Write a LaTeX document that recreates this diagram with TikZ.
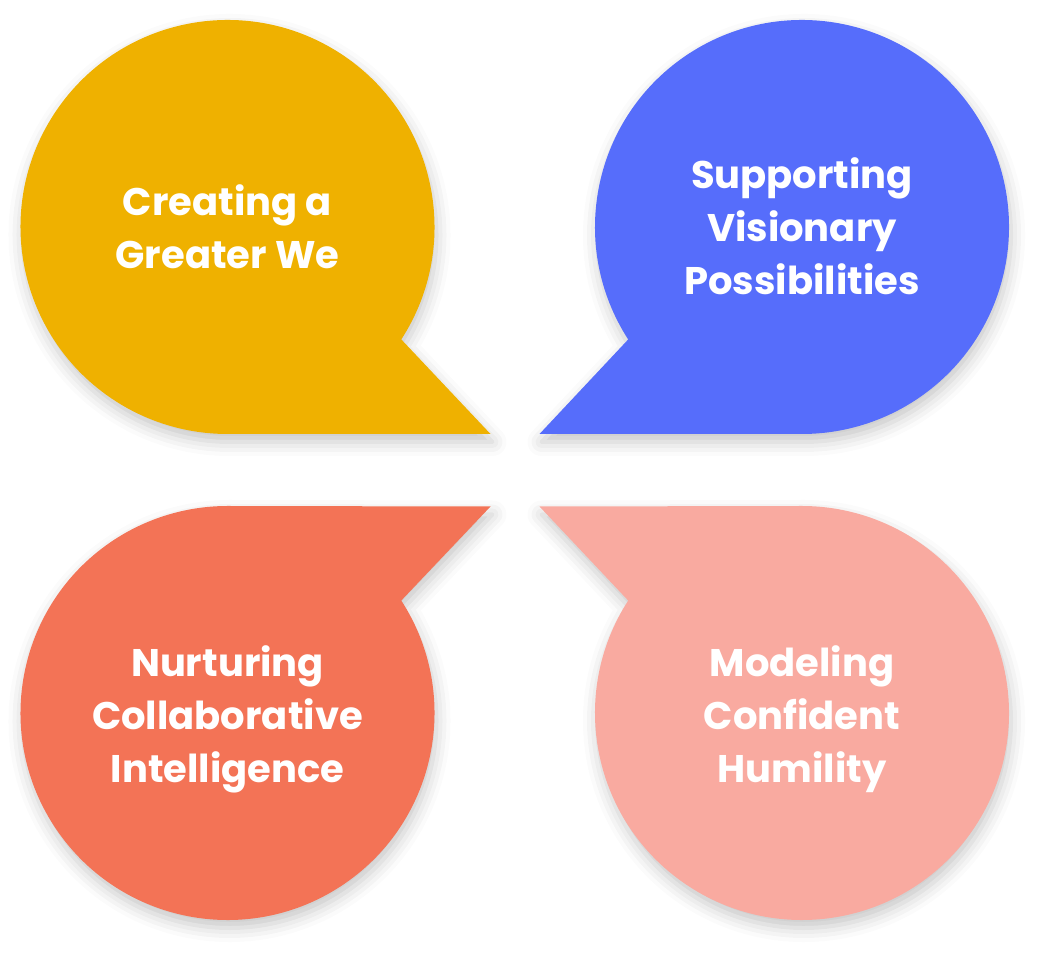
\documentclass[tikz,border=0pt]{standalone}
\usepackage{fontspec}
\setmainfont{Poppins}
\usetikzlibrary{shadows.blur}
\definecolor{GreaterGold}{HTML}{EFB100}
\definecolor{VisionBlue}{HTML}{566DFB}
\definecolor{NurtureCoral}{HTML}{F37356}
\definecolor{HumilityPink}{HTML}{F9AAA0}

\begin{document}
\begin{tikzpicture}[x=1pt,y=1pt,
  bubble/.style={blur shadow={shadow xshift=2pt,shadow yshift=-8pt,shadow blur radius=14pt,shadow opacity=22}},
  bubbletext/.style={text=white,font=\bfseries\fontsize{38.5}{53}\selectfont,align=center}]
  \useasboundingbox (0,0) rectangle (1054,966);
  % speech bubbles, tails towards the middle
  \fill[GreaterGold,bubble] (490.5,532) -- ([shift={(227.5,739)}]-32.9:207) arc[start angle=-32.9,end angle=270,radius=207] -- cycle;
  \fill[VisionBlue,bubble] (539.5,532) -- ([shift={(802,739)}]212.9:207) arc[start angle=212.9,end angle=-90,radius=207] -- cycle;
  \fill[NurtureCoral,bubble] (490.5,459.5) -- ([shift={(227.5,253)}]32.9:207) arc[start angle=32.9,end angle=-270,radius=207] -- cycle;
  \fill[HumilityPink,bubble] (539.5,459.5) -- ([shift={(802,253)}]147.1:207) arc[start angle=147.1,end angle=450,radius=207] -- cycle;

  \node[bubbletext] (greater) at (227.5,739) {Creating a\\Greater We};
  \node[bubbletext] (visionary) at (802,740) {Supporting\\Visionary\\Possibilities};
  \node[bubbletext] (collab) at (227.5,247) {Nurturing\\Collaborative\\Intelligence};
  \node[bubbletext] (humility) at (802,247) {Modeling\\Confident\\Humility};
\end{tikzpicture}
\end{document}
